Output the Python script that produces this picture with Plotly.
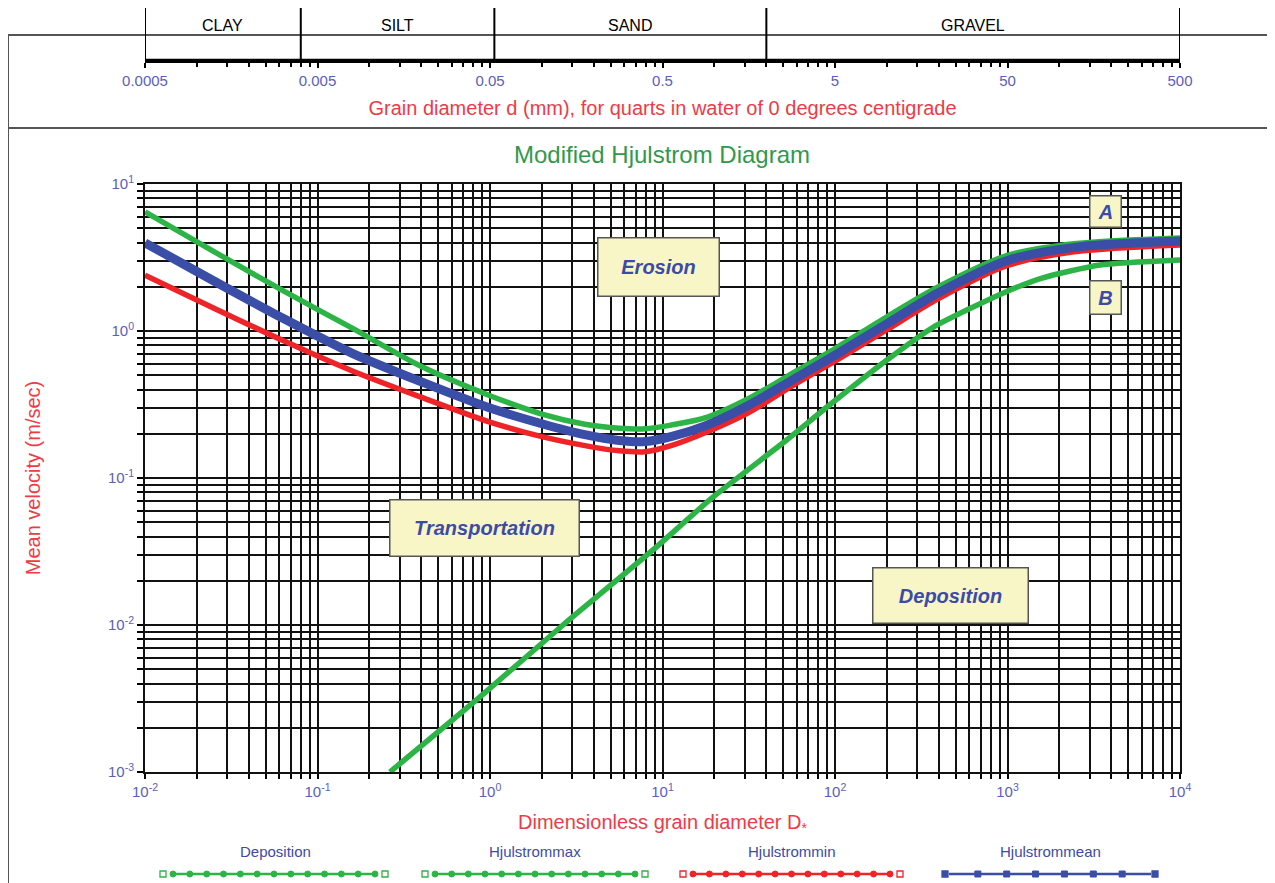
import math
import plotly.graph_objects as go

# figure is placed by the page with an 8px body margin, so the figure is
# sized to the window minus that margin and positions are shifted by it
W, H = 1267, 875
OFF = 8

# ---------------- data ----------------
dstar_erosion = [0.01, 0.0251, 0.0631, 0.158, 0.398, 1.0, 2.0, 3.55, 5.62, 7.94,
                 11.2, 17.8, 31.6, 56.2, 100, 200, 398, 1000, 2512, 10000]
v_hjulstrom_max = [6.46, 3.47, 1.88, 1.05, 0.575, 0.363, 0.272, 0.232, 0.218, 0.216,
                   0.229, 0.257, 0.347, 0.513, 0.759, 1.25, 2.00, 3.27, 3.94, 4.30]
v_hjulstrom_mean = [3.98, 2.19, 1.22, 0.708, 0.452, 0.299, 0.234, 0.197, 0.180, 0.177,
                    0.191, 0.227, 0.313, 0.462, 0.684, 1.12, 1.82, 3.02, 3.72, 4.09]
v_hjulstrom_min = [2.40, 1.43, 0.861, 0.537, 0.355, 0.240, 0.191, 0.166, 0.153, 0.151,
                   0.166, 0.204, 0.279, 0.422, 0.624, 1.02, 1.66, 2.79, 3.47, 3.85]

dstar_deposition = [0.263, 0.875, 2.65, 8.81, 19.6, 52.7, 89.9, 200, 370, 912, 1585, 3436, 10000]
v_deposition = [0.001, 0.00324, 0.01, 0.0324, 0.0741, 0.182, 0.304, 0.635, 1.06, 1.78, 2.29, 2.81, 3.04]

x_tickvals = [0.01, 0.1, 1, 10, 100, 1000, 10000]
x_ticktext = ["10<sup>-2</sup>", "10<sup>-1</sup>", "10<sup>0</sup>", "10<sup>1</sup>",
              "10<sup>2</sup>", "10<sup>3</sup>", "10<sup>4</sup>"]
y_tickvals = [0.001, 0.01, 0.1, 1, 10]
y_ticktext = ["10<sup>-3</sup>", "10<sup>-2</sup>", "10<sup>-1</sup>", "10<sup>0</sup>", "10<sup>1</sup>"]

grain_tickvals = [0.0005, 0.005, 0.05, 0.5, 5, 50, 500]
grain_ticktext = ["0.0005", "0.005", "0.05", "0.5", "5", "50", "500"]
size_classes = ["CLAY", "SILT", "SAND", "GRAVEL"]
size_class_bounds_mm = [0.0005, 0.004, 0.053, 2, 500]

regions = ["Erosion", "Transportation", "Deposition", "A", "B"]
region_dstar = [9.5, 0.935, 465, 3720, 3720]
region_v = [2.72, 0.0457, 0.0158, 6.46, 1.70]
region_box_w = [122, 190, 156, 32, 32]
region_box_h = [59, 57, 56, 32, 34]

# ---------------- style ----------------
GREEN = "#2db446"
BLUE = "#3a4ea8"
RED = "#ee2428"
TICKBLUE = "#5a60bb"
TXTRED = "#f03a46"
NARROW = "Liberation Sans Narrow, Liberation Sans, Arial, sans-serif"
SANS = "Liberation Sans, Arial, sans-serif"


def px(x):
    return (x - OFF) / W


def py(y):
    return 1 - (y - OFF) / H


def minor_vals(lo_exp, hi_exp, base=1.0):
    out = []
    for e in range(lo_exp, hi_exp):
        for k in range(2, 10):
            out.append(base * k * 10 ** e)
    return out


fig = go.Figure()

fig.add_trace(go.Scatter(x=dstar_deposition, y=v_deposition, mode="lines", name="Deposition",
                         line=dict(color=GREEN, width=5.5, shape="spline", smoothing=0.6),
                         showlegend=False))
fig.add_trace(go.Scatter(x=dstar_erosion, y=v_hjulstrom_max, mode="lines", name="Hjulstrommax",
                         line=dict(color=GREEN, width=5.5, shape="spline", smoothing=0.8),
                         showlegend=False))
fig.add_trace(go.Scatter(x=dstar_erosion, y=v_hjulstrom_min, mode="lines", name="Hjulstrommin",
                         line=dict(color=RED, width=5.5, shape="spline", smoothing=0.8),
                         showlegend=False))
fig.add_trace(go.Scatter(x=dstar_erosion, y=v_hjulstrom_mean, mode="lines", name="Hjulstrommean",
                         line=dict(color=BLUE, width=9, shape="spline", smoothing=0.8),
                         showlegend=False))

x0p, x1p = 145, 1180
y_top, y_bot = 184, 772

fig.update_layout(
    template="none",
    width=W, height=H,
    margin=dict(l=0, r=0, t=0, b=0, autoexpand=False),
    paper_bgcolor="white", plot_bgcolor="white",
    showlegend=False,
    title=dict(text="Modified Hjulstrom Diagram", x=px(662), y=py(155), xanchor="center",
               yanchor="middle", font=dict(family=SANS, size=24, color="#2f9a4c")),
    xaxis=dict(
        type="log", range=[-2, 4], domain=[px(x0p), px(x1p)], anchor="y", automargin=False,
        tickvals=x_tickvals, ticktext=x_ticktext,
        tickfont=dict(family=NARROW, size=15, color=TICKBLUE),
        ticks="outside", ticklen=5, tickcolor="black", tickwidth=1.5,
        showgrid=True, gridcolor="#111111", gridwidth=1.7,
        showline=True, linecolor="#111111", linewidth=2, mirror=True,
        minor=dict(tickvals=minor_vals(-2, 4), showgrid=True, gridcolor="#111111", gridwidth=1.7,
                   ticks="outside", ticklen=5, tickcolor="black", tickwidth=1.5),
        title=dict(text="Dimensionless grain diameter D<sub>*</sub>", standoff=16,
                   font=dict(family=SANS, size=20, color=TXTRED)),
        zeroline=False,
    ),
    yaxis=dict(
        type="log", range=[-3, 1], domain=[py(y_bot), py(y_top)], anchor="x", automargin=False,
        tickvals=y_tickvals, ticktext=y_ticktext,
        tickfont=dict(family=NARROW, size=15, color=TICKBLUE),
        ticks="outside", ticklen=6, tickcolor="black", tickwidth=1.5,
        showgrid=True, gridcolor="#111111", gridwidth=1.7,
        showline=True, linecolor="#111111", linewidth=2, mirror=True,
        minor=dict(tickvals=minor_vals(-3, 1), showgrid=True, gridcolor="#111111", gridwidth=1.7,
                   ticks="outside", ticklen=6, tickcolor="black", tickwidth=1.5),
        title=dict(text="Mean velocity (m/sec)", standoff=62,
                   font=dict(family=SANS, size=20, color=TXTRED)),
        zeroline=False,
    ),
    xaxis2=dict(
        type="log", range=[-3.30103, 2.69897], domain=[px(x0p), px(x1p)], anchor="y2",
        automargin=False,
        tickvals=grain_tickvals, ticktext=grain_ticktext,
        tickfont=dict(family=NARROW, size=15, color=TICKBLUE),
        ticks="outside", ticklen=5, tickcolor="black", tickwidth=2,
        showgrid=False, showline=True, linecolor="black", linewidth=2.5,
        minor=dict(tickvals=minor_vals(-4, 2, base=5.0), ticks="outside", ticklen=4,
                   tickcolor="black", tickwidth=1.5, showgrid=False),
        title=dict(text="Grain diameter d (mm), for quarts in water of 0 degrees centigrade",
                   standoff=14, font=dict(family=NARROW, size=20, color=TXTRED)),
        zeroline=False,
    ),
    yaxis2=dict(domain=[py(60), py(40)], anchor="x2", visible=False, range=[0, 1],
                automargin=False),
)

# placeholder trace to activate the grain-size axis
fig.add_trace(go.Scatter(x=[size_class_bounds_mm[0], size_class_bounds_mm[-1]], y=[None, None],
                         xaxis="x2", yaxis="y2", mode="lines", showlegend=False, hoverinfo="skip"))

shapes = []
# outer frame and header separator
shapes.append(dict(type="rect", xref="paper", yref="paper", x0=px(8), x1=px(1270),
                   y0=-0.05, y1=py(35), line=dict(color="#555555", width=2), layer="below"))
shapes.append(dict(type="line", xref="paper", yref="paper", x0=px(8), x1=px(1270),
                   y0=py(128), y1=py(128), line=dict(color="#555555", width=2)))
# grain-size scale baseline and class dividers
shapes.append(dict(type="line", xref="x2", yref="paper",
                   x0=size_class_bounds_mm[0], x1=size_class_bounds_mm[-1],
                   y0=py(60), y1=py(60), line=dict(color="black", width=2.5)))
for b in size_class_bounds_mm:
    shapes.append(dict(type="line", xref="x2", yref="paper", x0=b, x1=b, y0=py(60), y1=py(8),
                       line=dict(color="black", width=2)))

annotations = []
for i, name in enumerate(size_classes):
    lo, hi = size_class_bounds_mm[i], size_class_bounds_mm[i + 1]
    mid_log = (math.log10(lo) + math.log10(hi)) / 2
    annotations.append(dict(text=name, x=mid_log, xref="x2", y=py(25), yref="paper",
                            showarrow=False, font=dict(family=SANS, size=16, color="black"),
                            xanchor="center", yanchor="middle"))

for name, xd, yv, bw, bh in zip(regions, region_dstar, region_v, region_box_w, region_box_h):
    annotations.append(dict(text="<b><i>" + name + "</i></b>", x=math.log10(xd), y=math.log10(yv),
                            xref="x", yref="y", showarrow=False,
                            font=dict(family=SANS, size=20, color="#3d4ba6"),
                            bgcolor="#f8f6c6", bordercolor="#555555", borderwidth=1.5,
                            width=bw - 4, height=bh - 4, align="center", valign="middle"))

# custom legend at the bottom
legend_spec = [
    ("Deposition", GREEN, 163, 385, 275, "circle", 17, "open"),
    ("Hjulstrommax", GREEN, 425, 645, 535, "circle", 17, "open"),
    ("Hjulstrommin", RED, 683, 900, 792, "circle", 17, "open"),
    ("Hjulstrommean", BLUE, 945, 1155, 1050, "square", 30, "filled"),
]
ly_line = 874
for name, col, xa, xb, xc, mk, step, endstyle in legend_spec:
    annotations.append(dict(text=name, x=px(xc), y=py(851), xref="paper", yref="paper",
                            showarrow=False, font=dict(family=NARROW, size=15, color="#3d4ba6"),
                            xanchor="center", yanchor="middle"))
    s = 3
    for xe in (xa, xb):
        shapes.append(dict(type="rect", xref="paper", yref="paper",
                           x0=px(xe - s), x1=px(xe + s), y0=py(ly_line + s), y1=py(ly_line - s),
                           line=dict(color=col, width=1.3),
                           fillcolor=(col if endstyle == "filled" else "white")))
    la = xa + (10 if endstyle == "open" else 4)
    lb = xb - (10 if endstyle == "open" else 4)
    shapes.append(dict(type="line", xref="paper", yref="paper", x0=px(la), x1=px(lb),
                       y0=py(ly_line), y1=py(ly_line), line=dict(color=col, width=2.5)))
    n = int(round((lb - la) / step))
    for k in range(n + 1):
        xm = la + (lb - la) * k / n
        if mk == "circle":
            shapes.append(dict(type="circle", xref="paper", yref="paper",
                               x0=px(xm - 3), x1=px(xm + 3), y0=py(ly_line + 3), y1=py(ly_line - 3),
                               line=dict(color=col, width=1), fillcolor=col))
        elif 0 < k < n:
            shapes.append(dict(type="rect", xref="paper", yref="paper",
                               x0=px(xm - 3), x1=px(xm + 3), y0=py(ly_line + 3), y1=py(ly_line - 3),
                               line=dict(color=col, width=1), fillcolor=col))

fig.update_layout(shapes=shapes, annotations=annotations)
fig.write_html("out.html")
